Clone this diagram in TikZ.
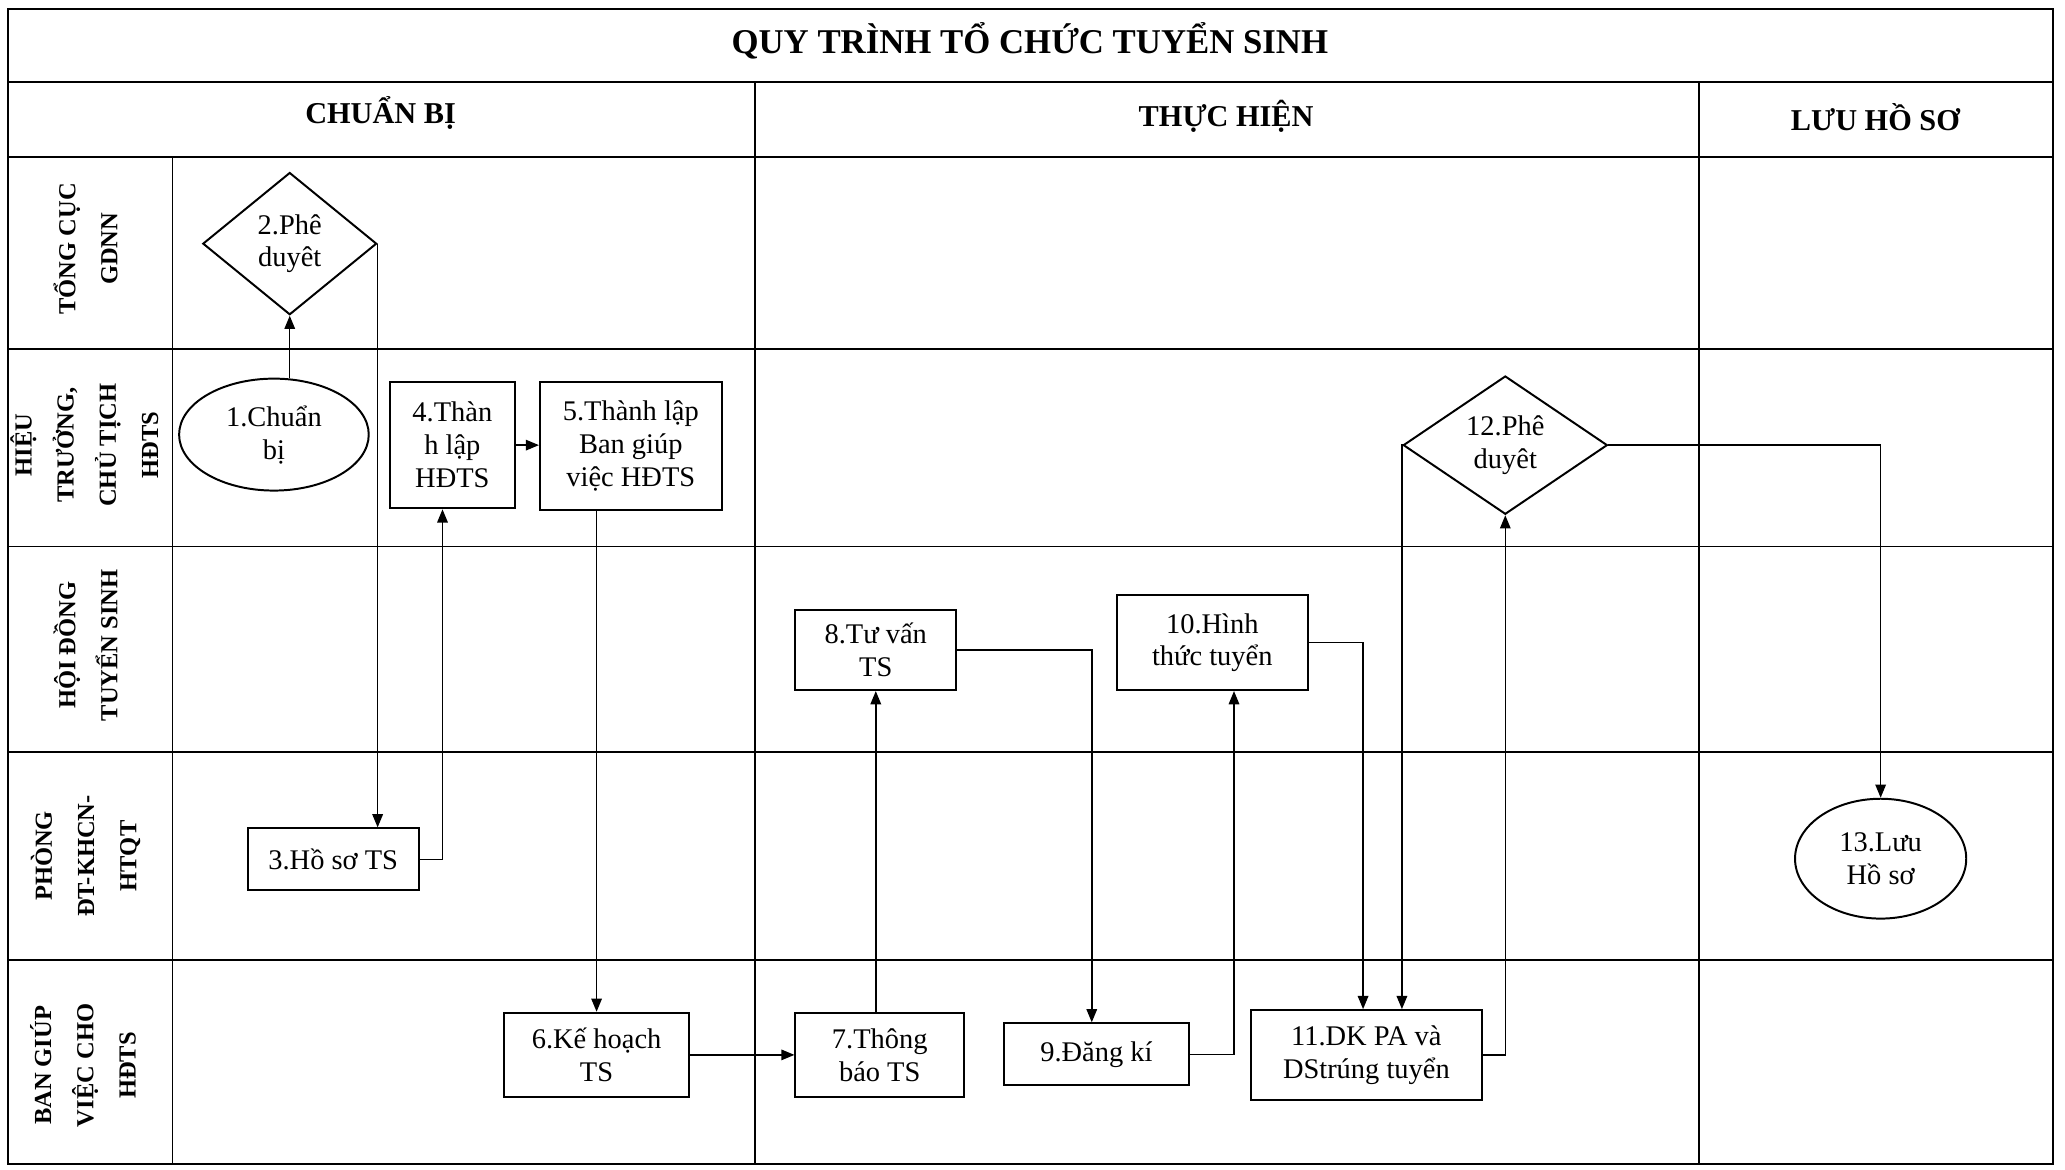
\documentclass[tikz,border=0pt]{standalone}
\usepackage{fontspec}
\setmainfont{Liberation Serif}
\usetikzlibrary{shapes.geometric,arrows.meta}

\begin{document}
\begin{tikzpicture}[x=0.5pt,y=-0.5pt,
		>={Triangle[length=5pt,width=4pt]},
		grid/.style={line width=0.7pt},
		box/.style={draw,line width=0.75pt,align=center,inner sep=1pt,font=\fontsize{10.8}{12.5}\selectfont},
		oval/.style={box,ellipse},
		check/.style={box,diamond,aspect=1.5,inner sep=0pt},
		lane/.style={rotate=90,align=center,font=\fontsize{9.3}{16}\selectfont\bfseries},
		phase/.style={font=\fontsize{11.5}{14}\selectfont\bfseries},
		flow/.style={->,line width=0.55pt}]
			\useasboundingbox (0,0) rectangle (1568,888);
			% table
			\draw[grid] (6,7) rectangle (1559,884);
			\draw[grid] (6,62) -- (1559,62);
			\draw[grid] (6,119) -- (1559,119);
			\draw[grid] (6,265) -- (1559,265);
			\draw[grid] (6,415) -- (1559,415);
			\draw[grid] (6,571) -- (1559,571);
			\draw[grid] (6,729) -- (1559,729);
			\draw[grid] (131,119) -- (131,884);
			\draw[grid] (573,62) -- (573,884);
			\draw[grid] (1290,62) -- (1290,884);
			\node[font=\fontsize{13.2}{15}\selectfont\bfseries] (title) at (782,31) {QUY TRÌNH TỔ CHỨC TUYỂN SINH};
			\node[phase] (prep) at (289,86) {CHUẨN BỊ};
			\node[phase] (exec) at (931,88) {THỰC HIỆN};
			\node[phase] (store) at (1424,89) {LƯU HỒ SƠ};
			\node[lane] (l1) at (65,189) {TỔNG CỤC\\GDNN};
			\node[lane] (l2) at (64,338) {HIỆU\\TRƯỞNG,\\CHỦ TỊCH\\HĐTS};
			\node[lane] (l3) at (65,490) {HỘI ĐỒNG\\TUYỂN SINH};
			\node[lane] (l4) at (65,650) {PHÒNG\\ĐT-KHCN-\\HTQT};
			\node[lane] (l5) at (63,809) {BAN GIÚP\\VIỆC CHO\\HĐTS};
			% steps
			\node[oval,minimum width=72pt,minimum height=42.5pt] (n1) at (208,330) {1.Chuẩn\\bị};
			\node[check,minimum width=66pt,minimum height=54pt] (n2) at (220,185) {2.Phê\\duyêt};
			\node[box,minimum width=65pt,minimum height=23.5pt] (n3) at (253,652.5) {3.Hồ sơ TS};
			\node[box,minimum width=47.5pt,minimum height=48pt] (n4) at (343.5,338) {4.Thàn\\h lập\\HĐTS};
			\node[box,minimum width=69pt,minimum height=48.5pt] (n5) at (479,338.5) {5.Thành lập\\Ban giúp\\việc HĐTS};
			\node[box,minimum width=70pt,minimum height=32pt] (n6) at (453,801) {6.Kế hoạch\\TS};
			\node[box,minimum width=64pt,minimum height=32pt] (n7) at (668,801) {7.Thông\\báo TS};
			\node[box,minimum width=61pt,minimum height=30.5pt] (n8) at (665,493.5) {8.Tư vấn\\TS};
			\node[box,minimum width=70.5pt,minimum height=23.5pt] (n9) at (832.5,800.5) {9.Đăng kí};
			\node[box,minimum width=72.5pt,minimum height=36pt] (n10) at (920.5,488) {10.Hình\\thức tuyển};
			\node[box,minimum width=87.5pt,minimum height=34pt] (n11) at (1037.5,801) {11.DK PA và\\DStrúng tuyển};
			\node[check,minimum width=77.5pt,minimum height=52.5pt] (n12) at (1143,338) {12.Phê\\duyêt};
			\node[oval,minimum width=65pt,minimum height=45.5pt] (n13) at (1428,652) {13.Lưu\\Hồ sơ};
			% flow
			\draw[flow] (n1.north -| n2.south) -- (n2.south);
			\draw[flow] (n2.east) -- (n2.east |- n3.north);
			\draw[flow] (n3.east) -| ([xshift=-3.75pt]n4.south);
			\draw[flow] (n4.east) -- (n4.east -| n5.west);
			\draw[flow] (n5.south -| n6.north) -- (n6.north);
			\draw[flow] (n6.east) -- (n7.west);
			\draw[flow] (n7.north -| n8.south) -- (n8.south);
			\draw[flow] (n8.east) -| ([xshift=-1.75pt]n9.north);
			\draw[flow] (n9.east) -| ([xshift=8.25pt]n10.south);
			\draw[flow] (n10.east) -| ([xshift=-1.25pt]n11.north);
			\draw[flow] (n11.east) -| (n12.south);
			\draw[flow] (n12.west) -| ([xshift=13.5pt]n11.north);
			\draw[flow] (n12.east) -| (n13.north);
		\end{tikzpicture}
\end{document}
